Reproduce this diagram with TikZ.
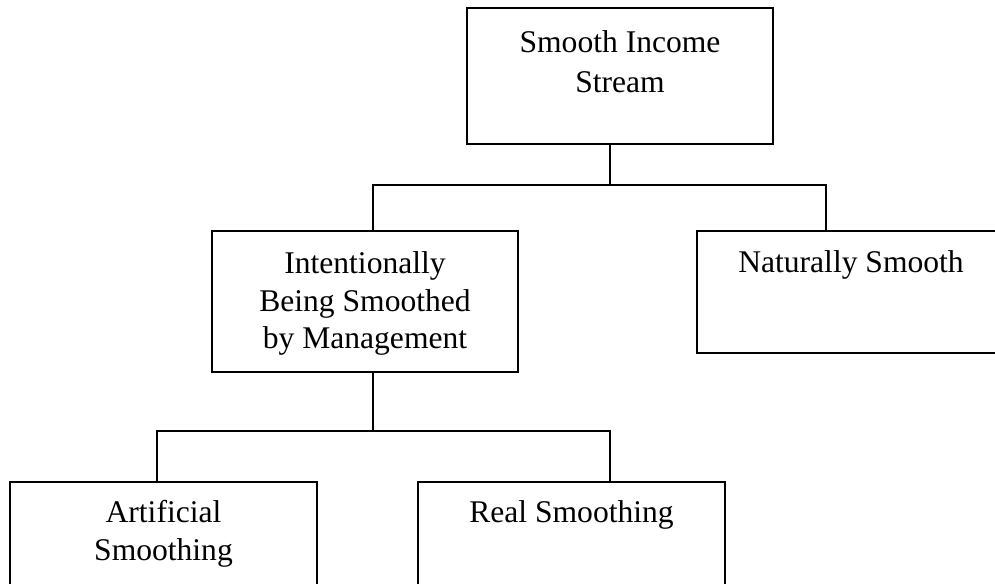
\documentclass[tikz,border=0pt]{standalone}
\usepackage{fontspec}
\setmainfont{Liberation Serif}
\usetikzlibrary{positioning}
\begin{document}
\begin{tikzpicture}[x=0.38pt,y=-0.38pt,
    box/.style={draw,line width=0.8pt,inner sep=0pt},
    lbl/.style={anchor=north,align=center,inner sep=0pt,font=\fontsize{12}{14.4}\selectfont},
    link/.style={line width=0.8pt}]
  \clip (0,0) rectangle (995,583);
  \node[box,minimum width=116.28pt,minimum height=51.68pt] (src)     at (620,76)    {};
  \node[box,minimum width=116.28pt,minimum height=53.58pt] (intent)  at (365,301.5) {};
  \node[box,minimum width=117.04pt,minimum height=46.36pt] (natural) at (851,292)   {};
  \node[box,minimum width=116.66pt,minimum height=52.44pt] (artif)   at (163.5,551) {};
  \node[box,minimum width=116.66pt,minimum height=52.44pt] (real)    at (571.5,551) {};
  \node[lbl,below=8.7pt of src.north,font=\fontsize{12}{15.2}\selectfont] (srct) {Smooth Income\\Stream};
  \node[lbl,below=7.9pt of intent.north]  (intentt)  {Intentionally\\Being Smoothed\\by Management};
  \node[lbl,below=7.7pt of natural.north] (naturalt) {Naturally Smooth};
  \node[lbl,below=7.2pt of artif.north]   (artift)   {Artificial\\Smoothing};
  \node[lbl,below=7.2pt of real.north]    (realt)    {Real Smoothing};
  \coordinate (tc) at (610,185);
  \coordinate (tl) at (373,185);
  \coordinate (tr) at (826,185);
  \coordinate (mc) at (373,431);
  \coordinate (ml) at (157,431);
  \coordinate (mr) at (610,431);
  \draw[link] (src.south -| tc) -- (tc);
  \draw[link] (intent.north -| tl) -- (tl) -- (tr) -- (natural.north -| tr);
  \draw[link] (intent.south -| mc) -- (mc);
  \draw[link] (artif.north -| ml) -- (ml) -- (mr) -- (real.north -| mr);
\end{tikzpicture}
\end{document}
